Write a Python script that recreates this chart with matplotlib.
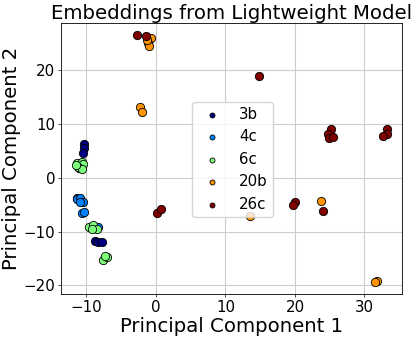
import matplotlib
matplotlib.use("Agg")
import matplotlib.pyplot as plt
import numpy as np

labels = ["3b", "4c", "6c", "20b", "26c"]

x_3b = [-10.3, -10.36, -10.45, -11.3, -11.0, -8.8, -8.3, -7.7]
y_3b = [6.25, 5.45, 4.5, -3.8, -3.9, -11.7, -11.9, -11.9]

x_4c = [-11.4, -10.9, -10.5, -11.0, -10.7, -10.3, -8.3, -11.1]
y_4c = [-4.0, -3.8, -4.5, -4.6, -6.5, -6.3, -9.1, 1.8]

x_6c = [-11.3, -10.7, -10.46, -11.2, -10.7, -11.5, -9.6, -9.0, -8.5, -9.2, -7.6, -7.1, -7.4]
y_6c = [2.8, 3.0, 2.5, 2.05, 1.7, 2.4, -9.2, -8.7, -9.6, -9.5, -15.2, -14.8, -14.5]

x_20b = [-0.76, -1.1, -0.96, -1.3, -2.3, -2.0, 13.6, 23.7, 31.8, 31.5]
y_20b = [25.9, 25.1, 24.5, 25.6, 13.2, 12.3, -7.1, -4.3, -19.1, -19.4]

x_26c = [-2.69, -1.4, 0.2, 0.7, 14.84, 25.2, 24.7, 24.96, 25.5, 33.2, 33.3, 32.6, 20.0, 19.7, 24.1]
y_26c = [26.5, 26.3, -6.5, -5.9, 18.9, 9.0, 8.1, 7.3, 7.6, 9.0, 8.2, 7.7, -4.5, -5.1, -6.2]

xs = [x_3b, x_4c, x_6c, x_20b, x_26c]
ys = [y_3b, y_4c, y_6c, y_20b, y_26c]
colors = plt.cm.jet(np.linspace(0, 1, len(labels)))

fig = plt.figure(figsize=(4.16, 3.39), dpi=100)
ax = fig.add_subplot(111)
fig.subplots_adjust(left=0.1466, right=0.9663, top=0.932, bottom=0.1327)

for i in range(len(labels)):
    ax.scatter(xs[i], ys[i], color=colors[i], s=36, edgecolors="black",
               linewidths=0.6, label=labels[i], zorder=3)

ax.set_xlim(-13.67, 35.4)
ax.set_ylim(-21.6, 28.73)
ax.set_xticks([-10, 0, 10, 20, 30])
ax.set_yticks([-20, -10, 0, 10, 20])
ax.tick_params(labelsize=10.8, length=2, width=0.5, pad=2)
for sp in ax.spines.values():
    sp.set_linewidth(0.6)
ax.grid(True, color="#cccccc", linewidth=0.8)
ax.set_axisbelow(True)

ax.set_title("Embeddings from Lightweight Model", fontsize=14.2, pad=3)
ax.set_xlabel("Principal Component 1", fontsize=14.2, labelpad=2)
ax.set_ylabel("Principal Component 2", fontsize=14.2, labelpad=2)

ax.legend(loc="upper left", bbox_to_anchor=(0.361, 0.738), fontsize=10.8,
          markerscale=0.6, borderpad=0.35)

fig.savefig("out.png", dpi=100)
